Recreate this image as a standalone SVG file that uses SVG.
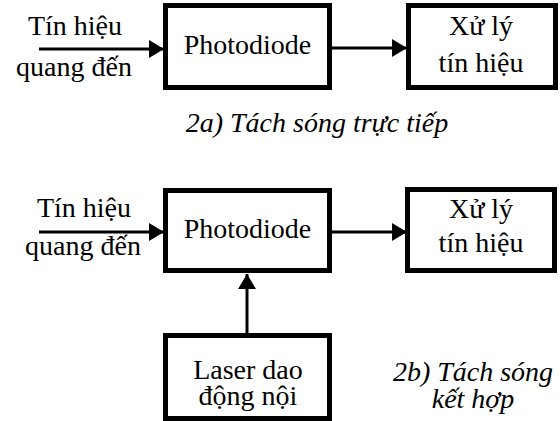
<svg xmlns="http://www.w3.org/2000/svg" width="560" height="421" viewBox="0 0 560 421">
<style>
.box{fill:#fff;stroke:#000;stroke-width:5}
.t{font-family:'Liberation Serif',serif !important;font-size:28px;fill:#000;text-anchor:middle}
.i{font-family:'Liberation Serif',serif !important;font-size:28px;fill:#000;text-anchor:middle;font-style:italic}
.ln{stroke:#000;stroke-width:3;fill:none}
</style>
<defs>
<marker id="ah" markerUnits="userSpaceOnUse" markerWidth="16" markerHeight="18" refX="15" refY="9" orient="auto">
<path d="M0,0 L15,9 L0,18 Z" fill="#000"/>
</marker>
</defs>
<rect width="560" height="421" fill="#fff"/>
<g id="connectors">
<line class="ln" x1="39" y1="49" x2="164" y2="49" marker-end="url(#ah)"/>
<line class="ln" x1="332" y1="48" x2="407" y2="48" marker-end="url(#ah)"/>
<line class="ln" x1="39" y1="232" x2="164" y2="232" marker-end="url(#ah)"/>
<line class="ln" x1="332" y1="232" x2="407" y2="232" marker-end="url(#ah)"/>
<line class="ln" x1="247" y1="334" x2="247" y2="274" marker-end="url(#ah)"/>
</g>
<g id="input-a">
<text class="t" style="font-family:'Liberation Serif'" x="75" y="35">Tín hiệu</text>
<text class="t" style="font-family:'Liberation Serif'" x="74" y="76">quang đến</text>
</g>
<g id="photodiode-a">
<rect class="box" x="165.5" y="5.5" width="164" height="82"/>
<text class="t" style="font-family:'Liberation Serif'" x="247.5" y="54">Photodiode</text>
</g>
<g id="xuly-a">
<rect class="box" x="408.5" y="5.5" width="147" height="82"/>
<text class="t" style="font-family:'Liberation Serif'" x="481" y="35">Xử lý</text>
<text class="t" style="font-family:'Liberation Serif'" x="481" y="72">tín hiệu</text>
</g>
<g id="caption-a">
<text class="i" style="font-family:'Liberation Serif'" x="317" y="132">2a) Tách sóng trực tiếp</text>
</g>
<g id="input-b">
<text class="t" style="font-family:'Liberation Serif'" x="84" y="217">Tín hiệu</text>
<text class="t" style="font-family:'Liberation Serif'" x="83" y="255">quang đến</text>
</g>
<g id="photodiode-b">
<rect class="box" x="165.5" y="190.5" width="164" height="80"/>
<text class="t" style="font-family:'Liberation Serif'" x="247.5" y="238">Photodiode</text>
</g>
<g id="xuly-b">
<rect class="box" x="407.5" y="189.5" width="147" height="81"/>
<text class="t" style="font-family:'Liberation Serif'" x="481" y="218">Xử lý</text>
<text class="t" style="font-family:'Liberation Serif'" x="481" y="252">tín hiệu</text>
</g>
<g id="laser">
<rect class="box" x="165.5" y="335.5" width="164" height="83"/>
<text class="t" style="font-family:'Liberation Serif'" x="248" y="379">Laser dao</text>
<text class="t" style="font-family:'Liberation Serif'" x="248" y="405">động nội</text>
</g>
<g id="caption-b">
<text class="i" style="font-family:'Liberation Serif'" x="473" y="381">2b) Tách sóng</text>
<text class="i" style="font-family:'Liberation Serif'" x="473" y="408">kết hợp</text>
</g>
</svg>
